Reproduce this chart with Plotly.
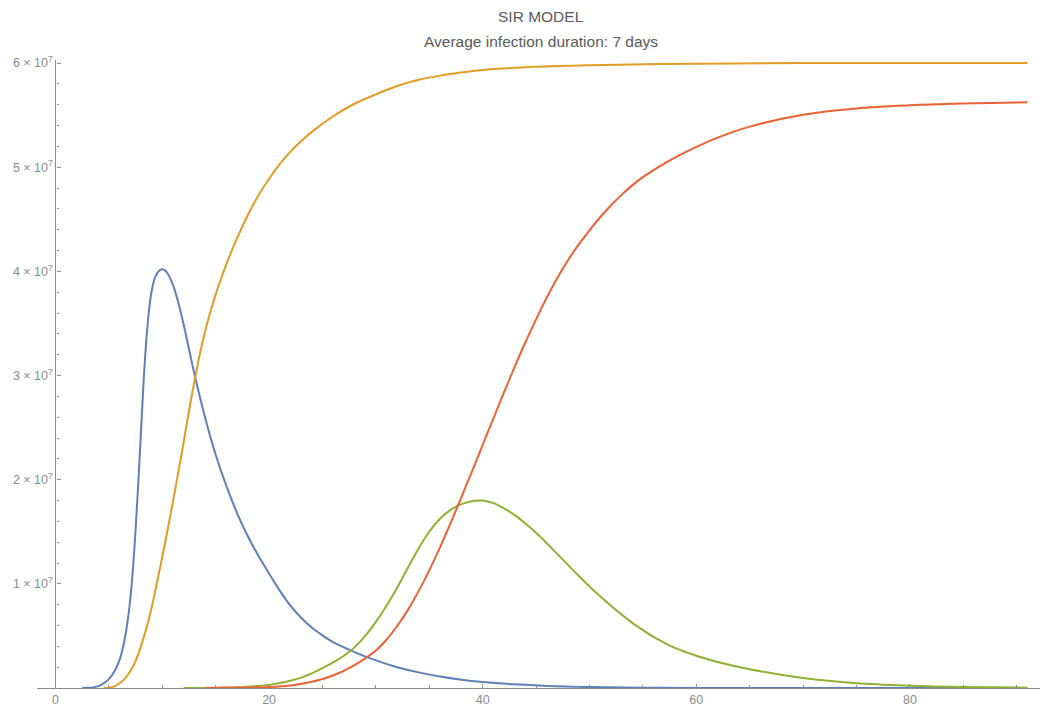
import plotly.graph_objects as go

# ---- data (values in units of 1e7) ----
t_blue = [2.5, 3, 3.5, 4, 4.5, 5, 5.5, 6, 6.25, 6.5, 6.75, 7, 7.25, 7.5, 7.75, 8, 8.25, 8.5,
          8.75, 9, 9.25, 9.5, 9.75, 10, 10.25, 10.5, 11, 11.5, 12, 13, 14, 15, 16, 17, 18, 19,
          20, 21, 22, 23, 24, 25, 26, 28, 30, 32, 34, 36, 38, 40, 43, 46, 50, 55, 60, 70, 80, 91]
v_blue = [0.0, 0.002, 0.006, 0.018, 0.045, 0.085, 0.155, 0.27, 0.36, 0.48, 0.64, 0.85, 1.14,
          1.52, 1.96, 2.45, 2.94, 3.33, 3.62, 3.81, 3.92, 3.98, 4.01, 4.02, 4.01, 3.98, 3.87,
          3.70, 3.49, 3.02, 2.60, 2.24, 1.94, 1.68, 1.46, 1.27, 1.10, 0.935, 0.79, 0.675, 0.58,
          0.505, 0.44, 0.345, 0.265, 0.20, 0.15, 0.11, 0.08, 0.058, 0.035, 0.02, 0.009, 0.003,
          0.001, 0.0, 0.0, 0.0]

t_orange = [4.5, 5, 5.5, 6, 6.5, 7, 7.5, 8, 8.5, 9, 9.5, 10, 10.5, 11, 11.5, 12, 12.5, 13,
            13.5, 14, 14.5, 15, 15.5, 16, 17, 18, 19, 20, 21, 22, 23, 24, 26, 28, 30, 32, 34,
            36, 38, 40, 45, 50, 60, 70, 91]
v_orange = [0.0, 0.003, 0.015, 0.045, 0.09, 0.16, 0.26, 0.40, 0.57, 0.77, 1.01, 1.26, 1.52,
            1.79, 2.07, 2.36, 2.66, 2.94, 3.20, 3.42, 3.61, 3.78, 3.93, 4.07, 4.32, 4.54, 4.73,
            4.89, 5.03, 5.15, 5.25, 5.34, 5.49, 5.61, 5.70, 5.78, 5.84, 5.88, 5.91, 5.935,
            5.965, 5.98, 5.995, 6.0, 6.0]

t_green = [12, 15, 18, 20, 22, 23, 24, 25, 26, 27, 28, 29, 30, 31, 32, 33, 34, 35, 36, 37, 38,
           39, 39.6, 40, 41, 42, 43, 44, 45, 46, 47, 48, 49, 50, 51, 52, 53, 54, 55, 56, 57,
           58, 59, 60, 62, 65, 70, 75, 80, 85, 91]
v_green = [0.0, 0.003, 0.012, 0.03, 0.07, 0.10, 0.14, 0.19, 0.245, 0.31, 0.39, 0.50, 0.635,
           0.79, 0.965, 1.155, 1.34, 1.50, 1.625, 1.71, 1.765, 1.793, 1.80, 1.80, 1.775, 1.725,
           1.66, 1.58, 1.49, 1.39, 1.285, 1.18, 1.075, 0.975, 0.88, 0.79, 0.705, 0.625, 0.555,
           0.49, 0.435, 0.385, 0.345, 0.31, 0.25, 0.18, 0.095, 0.045, 0.022, 0.01, 0.003]

t_red = [14, 18, 20, 22, 24, 26, 28, 30, 31, 32, 33, 34, 35, 36, 37, 38, 39, 40, 41, 42, 43,
         44, 45, 46, 47, 48, 49, 50, 51, 52, 53, 54, 55, 56, 57, 58, 60, 62, 65, 70, 75, 80,
         85, 91]
v_red = [0.0, 0.004, 0.01, 0.025, 0.06, 0.12, 0.22, 0.36, 0.465, 0.595, 0.75, 0.93, 1.13, 1.35,
         1.585, 1.83, 2.08, 2.335, 2.59, 2.84, 3.085, 3.32, 3.54, 3.75, 3.94, 4.11, 4.26,
         4.395, 4.52, 4.633, 4.735, 4.826, 4.905, 4.973, 5.035, 5.092, 5.195, 5.285, 5.39,
         5.505, 5.565, 5.595, 5.612, 5.625]

scale = 1e7
x_tick_vals = [0, 20, 40, 60, 80]
x_tick_text = ["0", "20", "40", "60", "80"]
y_tick_vals = [1, 2, 3, 4, 5, 6]
y_tick_text = [f"{k} \u00d7 10<sup>7</sup>" for k in y_tick_vals]

title_text = "SIR MODEL"
subtitle_text = "Average infection duration: 7 days"

series = [
    (t_blue, v_blue, "#5E81B5"),
    (t_orange, v_orange, "#E19C24"),
    (t_green, v_green, "#8FB032"),
    (t_red, v_red, "#EB6235"),
]

fig = go.Figure()
for tx, vy, col in series:
    fig.add_trace(go.Scatter(
        x=tx, y=[v * scale for v in vy], mode="lines",
        line=dict(color=col, width=2, shape="spline", smoothing=1.0),
        showlegend=False, hoverinfo="skip"))

axis_col = "#8c8c8c"
label_col = "#8a8a8a"
# page body has an 8px default margin; compensate so the plot lands where the reference has it
W, H = 1040, 705
L, R, T, B = 29, 3, 52, 25
x0, x1 = -1.73, 92.65
plot_h = H - T - B

fig.update_layout(
    width=W, height=H,
    margin=dict(l=L, r=R, t=T, b=B, autoexpand=False),
    paper_bgcolor="white", plot_bgcolor="white",
    font=dict(family="Liberation Sans, Arial, sans-serif", color=label_col),
    xaxis=dict(
        range=[x0, x1], showgrid=False, zeroline=False,
        showline=True, linecolor=axis_col, linewidth=1.2,
        tickmode="array", tickvals=x_tick_vals, ticktext=x_tick_text,
        ticks="inside", ticklen=4, tickcolor=axis_col, tickwidth=1,
        tickfont=dict(size=12.5, color=label_col),
        minor=dict(dtick=5, tick0=0, ticks="inside", ticklen=2.5,
                   tickcolor=axis_col, tickwidth=1, showgrid=False),
    ),
    yaxis=dict(
        range=[0, 6.03e7], showgrid=False, zeroline=False,
        anchor="free", position=(0 - x0) / (x1 - x0),
        showline=True, linecolor=axis_col, linewidth=1.2,
        tickmode="array", tickvals=[v * scale for v in y_tick_vals], ticktext=y_tick_text,
        ticks="inside", ticklen=4.5, tickcolor=axis_col, tickwidth=1,
        tickfont=dict(size=12.5, color=label_col),
        minor=dict(dtick=2e6, tick0=0, ticks="inside", ticklen=2.5,
                   tickcolor=axis_col, tickwidth=1, showgrid=False),
    ),
    annotations=[
        dict(text=title_text, xref="paper", yref="paper", x=0.5,
             y=(plot_h + T - 16 + 8) / plot_h,
             xanchor="center", yanchor="middle", showarrow=False,
             font=dict(size=15.5, color="#5a5a5a")),
        dict(text=subtitle_text, xref="paper", yref="paper", x=0.5,
             y=(plot_h + T - 42 + 8) / plot_h,
             xanchor="center", yanchor="middle", showarrow=False,
             font=dict(size=15.5, color="#5a5a5a")),
    ],
)

fig.write_html("out.html")
